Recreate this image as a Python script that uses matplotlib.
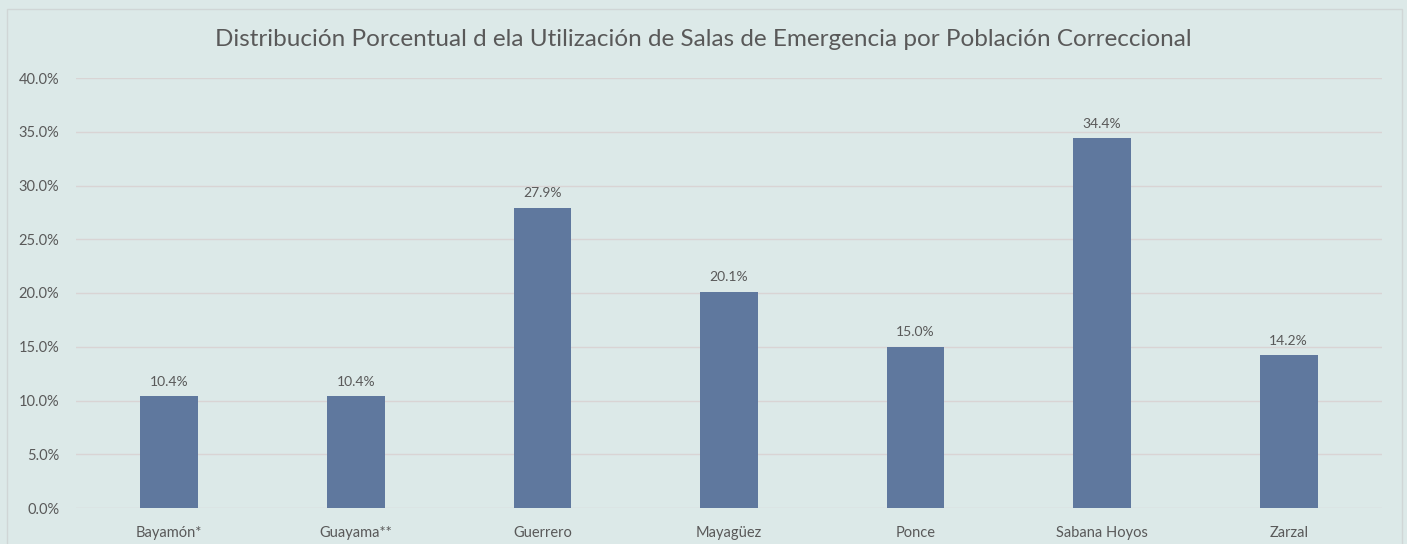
import matplotlib.pyplot as plt
from matplotlib.patches import Rectangle
from matplotlib.ticker import FuncFormatter

categories = ['Bayamón*', 'Guayama**', 'Guerrero', 'Mayagüez', 'Ponce', 'Sabana Hoyos', 'Zarzal']
values = [10.4, 10.4, 27.9, 20.1, 15.0, 34.4, 14.2]
yticks = [0, 5, 10, 15, 20, 25, 30, 35, 40]

bg = '#dce9e8'
bar_color = '#5f789e'
text_color = '#595959'

plt.rcParams['font.family'] = ['Lato', 'DejaVu Sans']

fig = plt.figure(figsize=(14.07, 5.44), dpi=100)
fig.patch.set_facecolor(bg)
ax = fig.add_axes([76 / 1407, 1 - 508 / 544, 1306 / 1407, 430 / 544])
ax.set_facecolor(bg)

# outer chart border
fig.patches.append(Rectangle((7 / 1407, -0.05), 1395 / 1407, 1.05 - 9 / 544,
                             transform=fig.transFigure, fill=False,
                             edgecolor='#d0d6d6', linewidth=1))

x = range(len(categories))
ax.bar(x, values, width=0.31, color=bar_color, zorder=3)
for i, v in enumerate(values):
    ax.text(i, v + 0.8, f'{v:.1f}%', ha='center', va='bottom',
            fontsize=10, color=text_color)

ax.set_xlim(-0.5, len(categories) - 0.5)
ax.set_ylim(0, 40)
ax.set_yticks(yticks)
ax.yaxis.set_major_formatter(FuncFormatter(lambda v, p: f'{v:.1f}%'))
ax.set_xticks(list(x))
ax.set_xticklabels(categories)
ax.tick_params(length=0, labelcolor=text_color)
ax.tick_params(axis='y', pad=12, labelsize=10.5)
ax.tick_params(axis='x', pad=13, labelsize=10.5)
ax.grid(axis='y', color='#d9d4d4', linewidth=1, zorder=0)
for s in ax.spines.values():
    s.set_visible(False)

fig.text(0.5, 1 - 40 / 544, 'Distribución Porcentual d ela Utilización de Salas de Emergencia por Población Correccional',
         ha='center', va='center', fontsize=17.5, color=text_color)

fig.savefig('out.png', dpi=100, facecolor=bg)
